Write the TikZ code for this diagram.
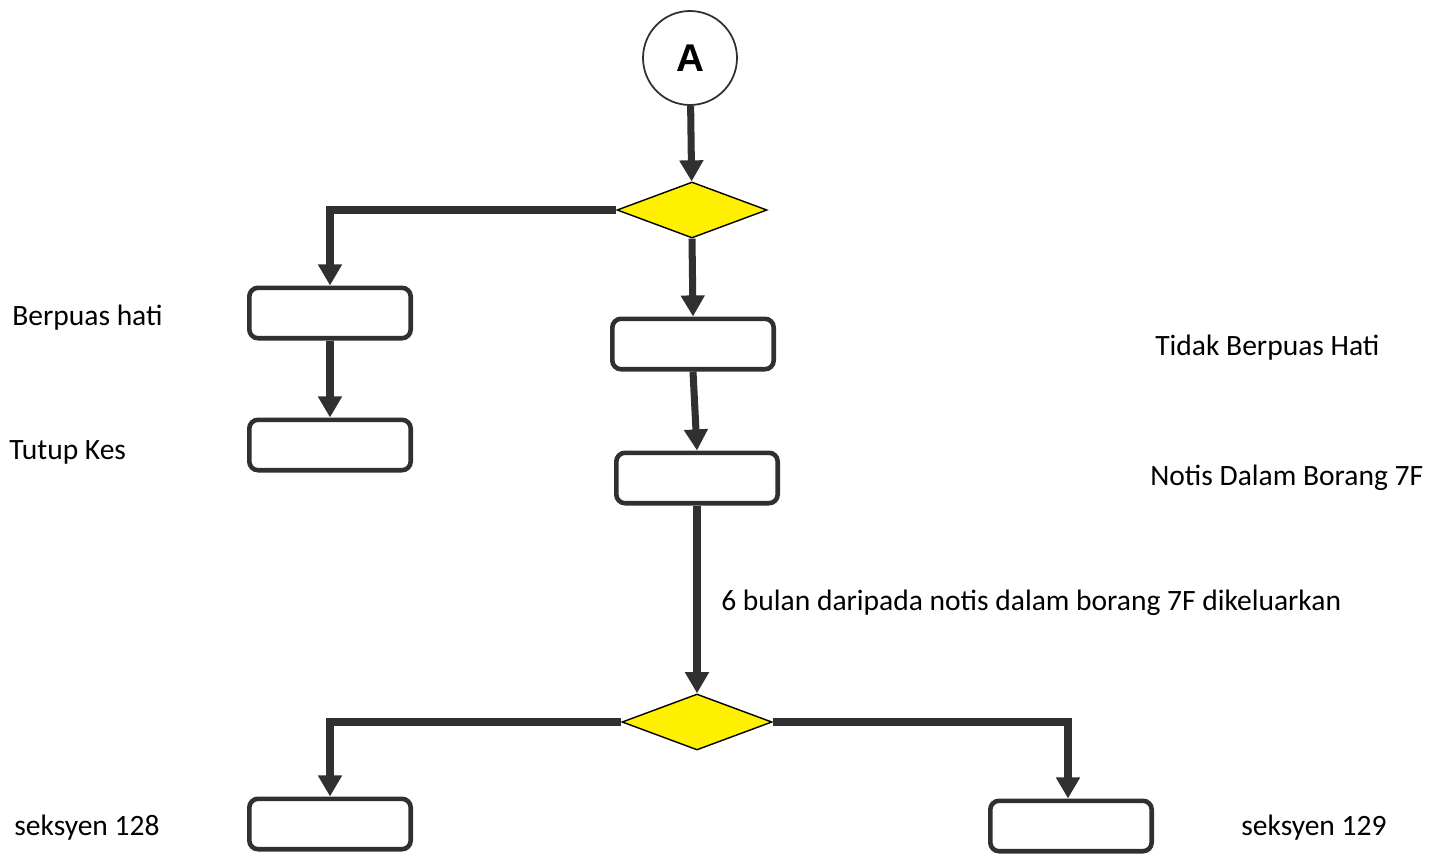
\documentclass[tikz,border=0pt]{standalone}
\usepackage{fontspec}
\setmainfont{Carlito}
\newfontfamily\arialfont{Liberation Sans}
\usetikzlibrary{arrows.meta,shapes.geometric}
\definecolor{lc}{HTML}{303030}
\definecolor{dy}{HTML}{FFF000}
\begin{document}
\begin{tikzpicture}[x=0.02cm,y=-0.02cm,
  conn/.style={draw=lc,line width=4pt,-{Triangle[width=13pt,length=12pt]}},
  box/.style={draw=lc,line width=2.6pt,rounded corners=5pt,minimum width=166*0.02cm-2.6pt,minimum height=55*0.02cm-2.6pt,fill=white},
  dec/.style={diamond,draw=black,line width=0.8pt,fill=dy,aspect=2.7,minimum width=150*0.02cm,minimum height=56*0.02cm,inner sep=0pt},
  lbl/.style={font=\fontsize{16.8pt}{18pt}\selectfont,anchor=west,inner sep=0pt}]
\useasboundingbox (0,0) rectangle (1444,855);
\node[circle,draw=lc,line width=1pt,minimum size=94*0.02cm,inner sep=0pt,font=\arialfont\bfseries\fontsize{22pt}{24pt}\selectfont] (A) at (690,58) {A};
\node[dec] (d1) at (692,210) {};
\node[box] (l1) at (330,313) {};
\node[box] (l2) at (330,445) {};
\node[box] (m1) at (693,344) {};
\node[box] (m2) at (697,478) {};
\node[dec] (d2) at (697,722) {};
\node[box] (b1) at (330,824) {};
\node[box] (b2) at (1071,826) {};
\draw[conn] (A) -- (d1);
\draw[conn] (d1.west) -| (l1.north);
\draw[conn] (d1.south) -- (m1.north);
\draw[conn] (l1.south) -- (l2.north);
\draw[conn] (m1.south) -- (m2.north);
\draw[conn] (m2.south) -- (d2.north);
\draw[conn] (d2.west) -| (b1.north);
\draw[conn] (d2.east) -| ([xshift=-3*0.02cm]b2.north);
\node[lbl] (t1) at (12,318) {Berpuas hati};
\node[lbl] (t2) at (9,452) {Tutup Kes};
\node[lbl] (t3) at (1155,348) {Tidak Berpuas Hati};
\node[lbl] (t4) at (1150,478) {Notis Dalam Borang 7F};
\node[lbl] (t5) at (721,603) {6 bulan daripada notis dalam borang 7F dikeluarkan};
\node[lbl] (t6) at (14,828) {seksyen 128};
\node[lbl] (t7) at (1241,828) {seksyen 129};
\end{tikzpicture}
\end{document}
